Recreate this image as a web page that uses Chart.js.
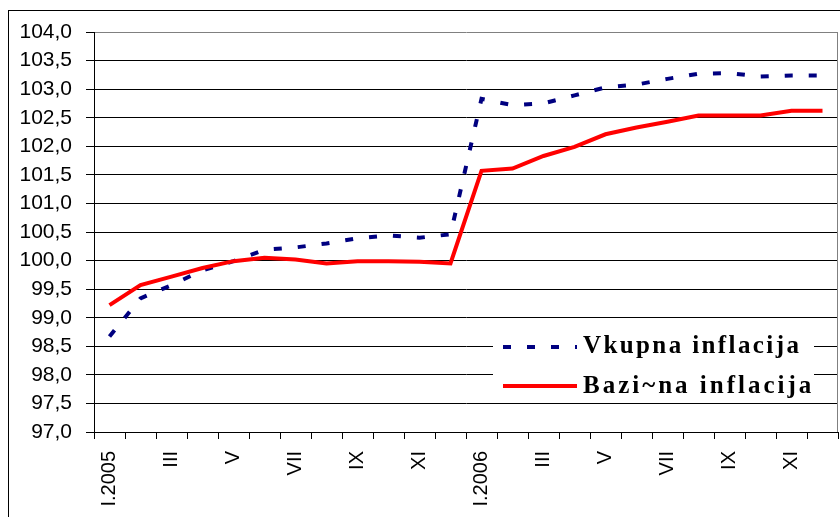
<!DOCTYPE html>
<html>
<head>
<meta charset="utf-8">
<script src="https://cdn.jsdelivr.net/npm/chart.js@4.4.1/dist/chart.umd.min.js"></script>
<style>
  body { margin: 0; background: #fff; }
  canvas { display: block; }
</style>
</head>
<body>
<canvas id="chart" width="840" height="517"></canvas>
<script>
// --- Data ---
const months = ['I.2005', 'II', 'III', 'IV', 'V', 'VI', 'VII', 'VIII', 'IX', 'X', 'XI', 'XII',
                'I.2006', 'II', 'III', 'IV', 'V', 'VI', 'VII', 'VIII', 'IX', 'X', 'XI', 'XII'];
const vkupna = [98.67, 99.34, 99.57, 99.83, 99.99, 100.19, 100.23, 100.30, 100.39, 100.44, 100.40, 100.46,
                102.83, 102.72, 102.75, 102.89, 103.03, 103.08, 103.18, 103.27, 103.28, 103.22, 103.24, 103.24];
const bazicna = [99.22, 99.57, 99.72, 99.87, 99.99, 100.05, 100.02, 99.95, 99.99, 99.99, 99.98, 99.95,
                 101.57, 101.61, 101.83, 101.99, 102.21, 102.33, 102.43, 102.54, 102.54, 102.54, 102.62, 102.62];
const seriesNames = ['Vkupna inflacija', 'Bazi~na inflacija'];
const yMin = 97, yMax = 104, yStep = 0.5;

// --- Frame, plot border and in-plot legend ---
const framePlugin = {
    id: 'frame',
    beforeDraw(chart) {
        const ctx = chart.ctx;
        ctx.save();
        ctx.strokeStyle = '#000';
        ctx.lineWidth = 1;
        ctx.strokeRect(8.5, 10.5, 900, 600);
        ctx.restore();
    },
    afterDraw(chart) {
        const ctx = chart.ctx;
        const a = chart.chartArea;
        ctx.save();
        // right plot border
        ctx.strokeStyle = '#808080';
        ctx.lineWidth = 1;
        ctx.beginPath();
        ctx.moveTo(Math.round(a.right) - 0.5, a.top);
        ctx.lineTo(Math.round(a.right) - 0.5, a.bottom);
        ctx.stroke();

        // legend box
        ctx.fillStyle = '#fff';
        ctx.fillRect(493, 319, 321, 82);
        const rows = [
            { y: 347, base: 353, spacing: '2.4px' },
            { y: 386, base: 393, spacing: '3px' }
        ];
        chart.data.datasets.forEach((ds, i) => {
            const r = rows[i];
            ctx.strokeStyle = ds.borderColor;
            ctx.lineWidth = ds.borderWidth;
            ctx.setLineDash(ds.borderDash || []);
            ctx.beginPath();
            ctx.moveTo(503, r.y);
            ctx.lineTo(577, r.y);
            ctx.stroke();
            ctx.setLineDash([]);
            ctx.fillStyle = '#000';
            ctx.font = 'bold 25px "Liberation Serif", "Times New Roman", serif';
            ctx.letterSpacing = r.spacing;
            ctx.textAlign = 'left';
            ctx.textBaseline = 'alphabetic';
            ctx.fillText(ds.label, 583, r.base);
        });
        ctx.restore();
    }
};

new Chart(document.getElementById('chart'), {
    type: 'line',
    data: {
        labels: months,
        datasets: [{
            label: seriesNames[0],
            data: vkupna,
            borderColor: '#000080',
            borderWidth: 4,
            borderDash: [8, 16],
            pointRadius: 0,
            tension: 0,
            order: 1
        }, {
            label: seriesNames[1],
            data: bazicna,
            borderColor: '#ff0000',
            borderWidth: 4,
            pointRadius: 0,
            tension: 0,
            order: 0
        }]
    },
    options: {
        responsive: false,
        animation: false,
        layout: { padding: { top: 32, right: 2, left: 0, bottom: 0 } },
        plugins: {
            legend: { display: false },
            tooltip: { enabled: false }
        },
        scales: {
            x: {
                offset: true,
                grid: {
                    offset: true,
                    drawOnChartArea: false,
                    drawTicks: true,
                    tickLength: 7,
                    tickColor: '#000'
                },
                border: { color: '#000', width: 1 },
                ticks: {
                    autoSkip: false,
                    minRotation: 90,
                    maxRotation: 90,
                    padding: 12,
                    color: '#000',
                    font: { family: '"Liberation Sans", Arial, sans-serif', size: 20 },
                    callback: function (value, index) {
                        return index % 2 === 0 ? months[index] : '';
                    }
                },
                afterFit: scale => {
                    scale.height = 85;
                    scale.paddingLeft = 0;
                    scale.paddingRight = 0;
                }
            },
            y: {
                min: yMin,
                max: yMax,
                grid: {
                    color: c => (c.tick && c.tick.value === yMax ? '#808080' : '#000'),
                    lineWidth: 1,
                    tickLength: 8,
                    tickColor: '#000'
                },
                border: { color: '#000', width: 1 },
                ticks: {
                    stepSize: yStep,
                    padding: 14,
                    color: '#000',
                    font: { family: '"Liberation Sans", Arial, sans-serif', size: 21 },
                    callback: v => v.toFixed(1).replace('.', ',')
                },
                afterFit: scale => {
                    scale.width = 94;
                    scale.paddingTop = 0;
                    scale.paddingBottom = 0;
                }
            }
        }
    },
    plugins: [framePlugin]
});
</script>
</body>
</html>
